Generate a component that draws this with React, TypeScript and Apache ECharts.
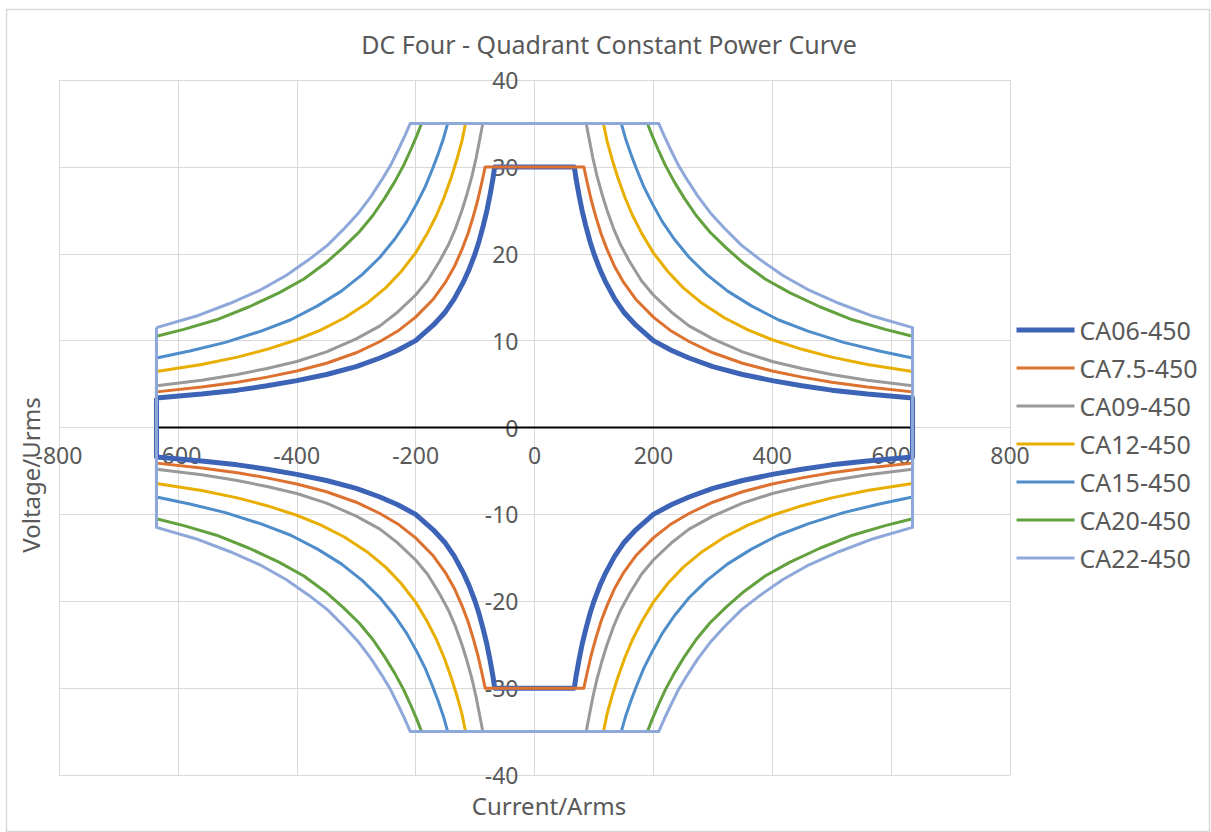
import React, { useEffect, useRef } from "react";
import * as echarts from "echarts";

const FONT = "'Noto Sans', 'Open Sans', sans-serif";
const TEXT_COLOR = "#595959";
const GRID_COLOR = "#D9D9D9";

const titleText = "DC Four - Quadrant Constant Power Curve";
const xAxisName = "Current/Arms";
const yAxisName = "Voltage/Urms";

const seriesNames = ["CA06-450", "CA7.5-450", "CA09-450", "CA12-450", "CA15-450", "CA20-450", "CA22-450"];
const seriesColors = ["#3D63B6", "#DC7130", "#999999", "#E8AE00", "#4E8DCA", "#63A03E", "#8FA8DA"];
const seriesWidths = [5, 3, 3, 3, 3, 3, 3];

// First-quadrant readings (current A, voltage V) for each drive; the chart is symmetric in all four quadrants
const currentsCA06 = [67, 70, 75, 80, 86, 93, 100, 110, 120, 135, 150, 170, 200, 230, 260, 300, 350, 400, 450, 500, 560, 636];
const voltagesCA06 = [30, 28.6, 26.7, 25.0, 23.3, 21.5, 20.0, 18.2, 16.7, 14.8, 13.3, 11.8, 10.0, 8.9, 8.0, 7.0, 6.1, 5.4, 4.8, 4.3, 3.85, 3.4];
const currentsCA75 = [83, 88, 95, 103, 112, 122, 135, 150, 170, 200, 230, 260, 300, 350, 400, 450, 500, 560, 636];
const voltagesCA75 = [30, 28.4, 26.3, 24.3, 22.3, 20.5, 18.5, 16.7, 14.8, 12.7, 11.1, 9.9, 8.6, 7.4, 6.5, 5.8, 5.2, 4.65, 4.1];
const currentsCA09 = [87, 92, 98, 105, 113, 122, 133, 145, 160, 180, 200, 230, 260, 300, 350, 400, 450, 500, 560, 636];
const voltagesCA09 = [35, 33.2, 31.1, 29.0, 27.0, 25.0, 22.9, 21.0, 19.1, 16.9, 15.25, 13.3, 11.7, 10.2, 8.7, 7.6, 6.8, 6.1, 5.45, 4.8];
const currentsCA12 = [116, 122, 130, 140, 152, 165, 180, 200, 225, 250, 280, 320, 360, 400, 450, 500, 560, 636];
const voltagesCA12 = [35, 33.0, 31.0, 28.8, 26.5, 24.4, 22.4, 20.1, 17.9, 16.1, 14.4, 12.6, 11.2, 10.1, 9.0, 8.1, 7.25, 6.45];
const currentsCA15 = [146, 153, 162, 172, 184, 198, 215, 235, 260, 290, 325, 365, 410, 460, 520, 580, 636];
const voltagesCA15 = [35, 33.3, 31.5, 29.7, 27.7, 25.8, 23.7, 21.7, 19.6, 17.6, 15.7, 14.0, 12.4, 11.1, 9.8, 8.8, 8.0];
const currentsCA20 = [190, 198, 208, 220, 235, 252, 272, 295, 322, 352, 388, 430, 480, 535, 590, 636];
const voltagesCA20 = [35, 33.6, 32.0, 30.2, 28.3, 26.4, 24.4, 22.5, 20.7, 18.9, 17.1, 15.5, 13.9, 12.4, 11.3, 10.5];
const currentsCA22 = [209, 218, 229, 242, 257, 275, 296, 320, 348, 380, 418, 462, 512, 570, 636];
const voltagesCA22 = [35, 33.6, 32.0, 30.2, 28.5, 26.6, 24.7, 22.9, 21.0, 19.3, 17.5, 15.8, 14.3, 12.8, 11.5];

const seriesCurrents = [currentsCA06, currentsCA75, currentsCA09, currentsCA12, currentsCA15, currentsCA20, currentsCA22];
const seriesVoltages = [voltagesCA06, voltagesCA75, voltagesCA09, voltagesCA12, voltagesCA15, voltagesCA20, voltagesCA22];

const zeroLineCurrents = [-636, 636];

function buildLoop(cur: number[], vol: number[]): number[][] {
  const n = cur.length;
  const pts: number[][] = [];
  for (let i = n - 1; i >= 0; i--) pts.push([-cur[i], vol[i]]);
  for (let i = 0; i < n; i++) pts.push([cur[i], vol[i]]);
  for (let i = n - 1; i >= 0; i--) pts.push([cur[i], -vol[i]]);
  for (let i = 0; i < n; i++) pts.push([-cur[i], -vol[i]]);
  pts.push([-cur[n - 1], vol[n - 1]]);
  return pts;
}

export default function App() {
  const ref = useRef<HTMLDivElement>(null);
  useEffect(() => {
    if (!ref.current) return;
    const chart = echarts.init(ref.current, undefined, { renderer: "svg" });
    const series: any[] = [
      {
        name: "zero",
        type: "line",
        data: zeroLineCurrents.map((c) => [c, 0]),
        symbol: "none",
        lineStyle: { color: "#000000", width: 2 },
        itemStyle: { color: "#000000" },
        silent: true,
        z: 1,
      },
    ];
    seriesNames.forEach((name, i) => {
      series.push({
        name,
        type: "line",
        data: buildLoop(seriesCurrents[i], seriesVoltages[i]),
        symbol: "none",
        showSymbol: false,
        lineStyle: { color: seriesColors[i], width: seriesWidths[i], join: "round" },
        itemStyle: { color: "transparent", borderWidth: 0 },
        z: 2 + i,
      });
    });
    chart.setOption({
      animation: false,
      backgroundColor: "#ffffff",
      textStyle: { fontFamily: FONT },
      grid: { left: 59, right: 201, top: 80, bottom: 57, containLabel: false },
      legend: {
        data: seriesNames.map((name, i) => ({ name, lineStyle: { width: seriesWidths[i] } })),
        orient: "vertical",
        left: 1014,
        top: 317,
        padding: 0,
        itemWidth: 58,
        itemHeight: 14,
        itemGap: 12,
        lineStyle: { width: "inherit" },
        textStyle: { fontSize: 25, color: TEXT_COLOR, fontFamily: FONT, lineHeight: 26 },
        selectedMode: false,
      },
      xAxis: {
        type: "value",
        min: -800,
        max: 800,
        interval: 200,
        position: "bottom",
        offset: -347.5,
        axisLine: { show: false },
        axisTick: { show: false },
        axisLabel: { fontSize: 23, color: TEXT_COLOR, fontFamily: FONT, margin: 16, hideOverlap: false },
        splitLine: { show: true, lineStyle: { color: GRID_COLOR, width: 1 } },
      },
      yAxis: {
        type: "value",
        min: -40,
        max: 40,
        interval: 10,
        position: "left",
        offset: -475.5,
        axisLine: { show: false },
        axisTick: { show: false },
        axisLabel: { fontSize: 23, color: TEXT_COLOR, fontFamily: FONT, margin: 16, hideOverlap: false },
        splitLine: { show: true, lineStyle: { color: GRID_COLOR, width: 1 } },
      },
      graphic: [
        {
          type: "rect",
          shape: { x: 6.5, y: 9.5, width: 1203, height: 822 },
          style: { fill: "none", stroke: GRID_COLOR, lineWidth: 1.5 },
          silent: true,
          z: -10,
        },
        {
          type: "text",
          x: 609,
          y: 44,
          style: {
            text: titleText,
            fontSize: 25,
            fontFamily: FONT,
            fill: TEXT_COLOR,
            align: "center",
            verticalAlign: "middle",
          },
        },
        {
          type: "text",
          x: 549,
          y: 805,
          style: {
            text: xAxisName,
            fontSize: 24,
            fontFamily: FONT,
            fill: TEXT_COLOR,
            align: "center",
            verticalAlign: "middle",
          },
        },
        {
          type: "text",
          x: 30,
          y: 475,
          rotation: Math.PI / 2,
          style: {
            text: yAxisName,
            fontSize: 24,
            fontFamily: FONT,
            fill: TEXT_COLOR,
            align: "center",
            verticalAlign: "middle",
          },
        },
      ],
      series,
    });
    return () => chart.dispose();
  }, []);
  return (
    <div
      ref={ref}
      style={{ position: "fixed", left: 0, top: 0, width: 1211, height: 832, background: "#ffffff" }}
    />
  );
}
